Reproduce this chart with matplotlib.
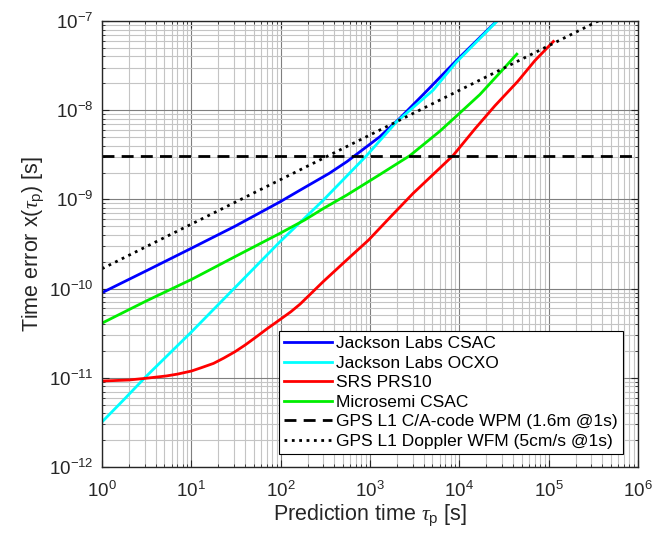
import matplotlib
matplotlib.use("Agg")
import matplotlib.pyplot as plt
from matplotlib.ticker import LogLocator, NullFormatter

plt.rcParams['font.family'] = ['Liberation Sans', 'DejaVu Sans']
plt.rcParams['mathtext.fontset'] = 'custom'
plt.rcParams['mathtext.rm'] = 'Liberation Sans'
plt.rcParams['mathtext.it'] = 'Liberation Serif:italic'

# prediction time [s] and time error [s] for each oscillator
tau_jl_csac = [1, 3.16, 10, 30.8, 98.5, 165, 233, 350, 551, 1290, 2150, 4330, 9250, 2.62e4]
err_jl_csac = [9e-11, 1.59e-10, 2.83e-10, 5.0e-10, 9.4e-10, 1.27e-9, 1.55e-9, 1.96e-9,
               2.65e-9, 5.05e-9, 8.1e-9, 1.65e-8, 3.6e-8, 1e-7]

tau_jl_ocxo = [1, 1.73, 3.16, 10.1, 98.5, 300, 917, 1980, 5100, 9250, 2.65e4]
err_jl_ocxo = [3.2e-12, 5.6e-12, 1.05e-11, 3.29e-11, 3.36e-10, 9.8e-10, 3.1e-9, 7.4e-9,
               1.68e-8, 3.45e-8, 1e-7]

tau_prs10 = [1, 2, 3.06, 5.3, 7, 10, 13, 17.7, 23, 30.8, 40, 53.7, 70, 100, 130, 165, 300,
             550, 963, 1780, 3040, 5500, 8500, 1.5e4, 2.5e4, 4.5e4, 7e4, 1.13e5]
err_prs10 = [9.2e-12, 9.45e-12, 9.86e-12, 1.05e-11, 1.10e-11, 1.19e-11, 1.30e-11, 1.45e-11,
             1.66e-11, 1.96e-11, 2.33e-11, 2.89e-11, 3.53e-11, 4.55e-11, 5.5e-11, 6.7e-11,
             1.2e-10, 2.1e-10, 3.5e-10, 6.7e-10, 1.17e-9, 2.05e-9, 3.1e-9, 6.2e-9, 1.12e-8,
             2.1e-8, 3.59e-8, 5.9e-8]

tau_ms_csac = [1, 3.16, 10.1, 30.8, 98.5, 187, 300, 551, 1290, 2800, 6030, 1e4, 1.7e4,
               3.16e4, 4.4e4]
err_ms_csac = [4.1e-11, 7.3e-11, 1.27e-10, 2.28e-10, 4.17e-10, 5.9e-10, 7.9e-10, 1.12e-9,
               1.9e-9, 3.1e-9, 5.8e-9, 9.2e-9, 1.5e-8, 2.95e-8, 4.25e-8]

# GPS reference levels
tau_gps = [1, 1e6]
err_gps_code = [3.1e-9, 3.1e-9]
err_gps_doppler = [1.67e-10, 1.67e-7]

labels = ['Jackson Labs CSAC', 'Jackson Labs OCXO', 'SRS PRS10', 'Microsemi CSAC',
          'GPS L1 C/A-code WPM (1.6m @1s)', 'GPS L1 Doppler WFM (5cm/s @1s)']

fig = plt.figure(figsize=(6.53, 5.38), dpi=100)
ax = fig.add_axes([102/653, 1 - 467/538, 536/653, 446/538])

lw = 2.0
ax.loglog(tau_jl_csac, err_jl_csac, color='#0000ff', lw=lw, label=labels[0])
ax.loglog(tau_jl_ocxo, err_jl_ocxo, color='#00ffff', lw=lw, label=labels[1])
ax.loglog(tau_prs10, err_prs10, color='#ff0000', lw=lw, label=labels[2])
ax.loglog(tau_ms_csac, err_ms_csac, color='#00ee00', lw=lw, label=labels[3])
ax.loglog(tau_gps, err_gps_code, color='black', lw=lw, dashes=(4.3, 2.6), label=labels[4])
ax.loglog(tau_gps, err_gps_doppler, color='black', lw=lw, ls=':', label=labels[5])

ax.set_xlim(1, 1e6)
ax.set_ylim(1e-12, 1e-7)
ax.xaxis.set_major_locator(LogLocator(base=10, numticks=10))
ax.yaxis.set_major_locator(LogLocator(base=10, numticks=10))
ax.xaxis.set_minor_locator(LogLocator(base=10, subs=range(2, 10), numticks=20))
ax.yaxis.set_minor_locator(LogLocator(base=10, subs=range(2, 10), numticks=20))
ax.xaxis.set_minor_formatter(NullFormatter())
ax.yaxis.set_minor_formatter(NullFormatter())

ax.grid(True, which='major', color='#7f7f7f', lw=0.8)
ax.grid(True, which='minor', color='#c4c4c4', lw=0.8)
ax.set_axisbelow(True)

for s in ax.spines.values():
    s.set_color('#262626')
    s.set_linewidth(1.0)
ax.tick_params(which='both', direction='in', top=True, right=True, colors='#262626',
               labelsize=13.5)
ax.tick_params(axis='x', pad=10)
ax.tick_params(axis='y', pad=6)
ax.tick_params(which='major', length=5)
ax.tick_params(which='minor', length=2.5)

ax.set_xlabel(r'Prediction time $\tau_{\rm p}$ [s]', fontsize=15.5, color='#262626',
              labelpad=1)
ax.set_ylabel(r'Time error x($\tau_{\rm p}$) [s]', fontsize=15.5, color='#262626',
              labelpad=2)

leg = ax.legend(loc='lower right', bbox_to_anchor=(0.9715, 0.029), borderaxespad=0,
                fontsize=12.5, handlelength=2.74, handletextpad=0.23, labelspacing=0.25,
                borderpad=0.3, fancybox=False, framealpha=1, edgecolor='black')
leg.get_frame().set_linewidth(0.8)

fig.savefig('out.png', dpi=100)
